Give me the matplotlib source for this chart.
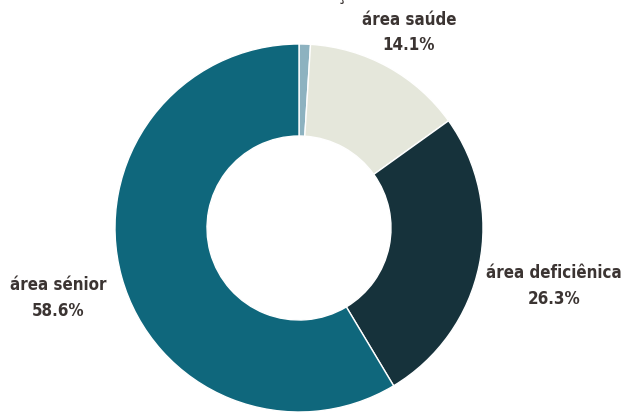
import matplotlib.pyplot as plt
from matplotlib import font_manager

# dados
labels = ["área formação", "área saúde", "área deficiênica", "área sénior"]
values = [1.0, 14.1, 26.3, 58.6]
colors = ["#8db2c0", "#e5e7db", "#16323b", "#0f677c"]

plt.rcParams["font.family"] = ["DejaVu Sans"]
cond = [f for f in font_manager.fontManager.ttflist
        if "Condensed" in f.fname and "Bold" in f.fname and "DejaVuSans" in f.fname]

W, H = 625, 412
fig = plt.figure(figsize=(W / 100, H / 100), dpi=100)
ax = fig.add_axes([0, 0, 1, 1])

cx, cy, r = 299, H - 228, 184
ax.pie(values, colors=colors, startangle=90, counterclock=False,
       center=(cx, cy), radius=r, frame=True,
       wedgeprops=dict(width=r * 0.5, edgecolor="white", linewidth=1.0))
ax.set_xlim(0, W)
ax.set_ylim(0, H)
ax.set_aspect("equal")
ax.axis("off")


def fp():
    if cond:
        return dict(fontproperties=font_manager.FontProperties(fname=cond[0].fname, size=12.2))
    return dict(fontsize=10.5, fontweight="bold")


# rótulo da fatia pequena: quase todo fora da figura, como no original
ax.text(305, H - 4, f"{values[0]:.1f}%\n{labels[0]}", ha="center", va="bottom",
        color="#3b3432", linespacing=1.5, **fp())

# posições dos outros rótulos (pixels a partir do topo)
pos = [(409, 32), (554, 286), (58, 298)]
for lab, v, (x, y) in zip(labels[1:], values[1:], pos):
    ax.text(x, H - y, f"{lab}\n{v:.1f}%", ha="center", va="center",
            color="#3b3432", linespacing=1.5, **fp())

fig.savefig("out.png", dpi=100)
